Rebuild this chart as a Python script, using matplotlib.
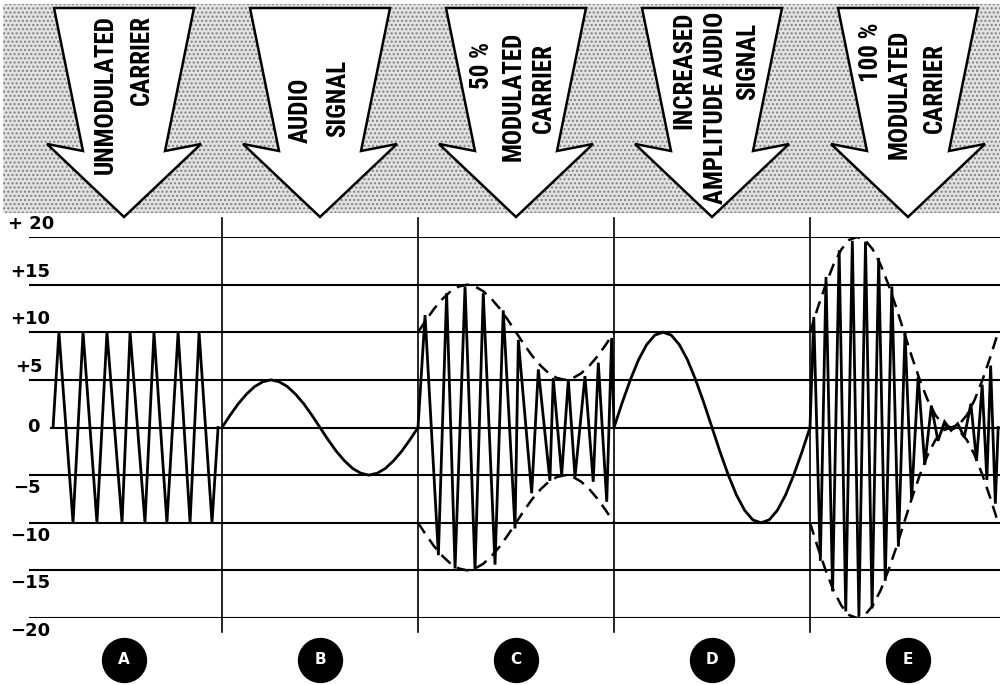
import numpy as np
import matplotlib
matplotlib.use("Agg")
import matplotlib.pyplot as plt
from matplotlib.patches import Polygon, Rectangle

# ---- data (x in panel widths, y in signal units) ----
# A: unmodulated carrier
carrier_a_t = [0.138, 0.168, 0.240, 0.291, 0.362, 0.413, 0.490, 0.531, 0.607,
               0.653, 0.719, 0.776, 0.837, 0.883, 0.949, 0.980]
carrier_a_v = [0, 10, -10, 10, -10, 10, -10, 10, -10, 10, -10, 10, -10, 10, -10, 0]

# sample positions used for the smooth curves (fraction of a panel)
curve_t = np.linspace(0, 1, 25)

# B: audio signal
audio_b = [0, 1.3, 2.5, 3.5, 4.3, 4.8, 5, 4.8, 4.3, 3.5, 2.5, 1.3, 0,
           -1.3, -2.5, -3.5, -4.3, -4.8, -5, -4.8, -4.3, -3.5, -2.5, -1.3, 0]

# C: 50 % modulated carrier
carrier_c_t = [0.0, 0.036, 0.104, 0.146, 0.189, 0.240, 0.291, 0.333, 0.393,
               0.435, 0.495, 0.512, 0.580, 0.614, 0.673, 0.690, 0.733, 0.767,
               0.801, 0.852, 0.894, 0.920, 0.963, 0.988, 1.0]
carrier_c_v = [0, 11.8, -13.4, 14.1, -14.8, 14.8, -15.0, 14.1, -14.4, 12.3,
               -10.6, 9.2, -6.9, 6.1, -5.6, 5.2, -5.0, 5.0, -5.2, 5.4, -5.7,
               6.8, -7.8, 9.4, 0]
envelope_c = [10, 11.3, 12.5, 13.5, 14.3, 14.8, 15, 14.8, 14.3, 13.5, 12.5, 11.3, 10,
              8.7, 7.5, 6.5, 5.7, 5.2, 5, 5.2, 5.7, 6.5, 7.5, 8.7, 10]

# D: increased amplitude audio signal
audio_d = [0, 2.6, 5, 7.1, 8.7, 9.7, 10, 9.7, 8.7, 7.1, 5, 2.6, 0,
           -2.6, -5, -7.1, -8.7, -9.7, -10, -9.7, -8.7, -7.1, -5, -2.6, 0]

# E: 100 % modulated carrier (drawn a little narrower than the other panels)
span_e = 0.96
carrier_e_t = [0.0, 0.02, 0.055, 0.085, 0.12, 0.155, 0.19, 0.225, 0.26, 0.295,
               0.33, 0.365, 0.40, 0.435, 0.47, 0.505, 0.54, 0.575, 0.61, 0.645,
               0.68, 0.715, 0.75, 0.785, 0.82, 0.855, 0.885, 0.915, 0.94, 0.96,
               0.985, 1.0]
carrier_e_v = [0, 11.6, -14.0, 15.8, -17.2, 18.6, -19.3, 19.6, -19.8, 19.5,
               -19.0, 17.8, -16.1, 14.8, -12.5, 10.0, -7.5, 5.3, -3.9, 2.3,
               -1.4, 0.6, -0.3, 0.4, -1.0, 2.5, -3.5, 4.5, -5.5, 6.5, -8.0, 0]
envelope_e = [10, 12.6, 15, 17.1, 18.7, 19.7, 20, 19.7, 18.7, 17.1, 15, 12.6, 10,
              7.4, 5, 2.9, 1.3, 0.3, 0, 0.3, 1.3, 2.9, 5, 7.4, 10]

grid_levels = [20, 15, 10, 5, 0, -5, -10, -15, -20]
grid_labels = ["+ 20", "+15", "+10", "+5", "0", "\u22125", "\u221210", "\u221215", "\u221220"]
panel_letters = ["A", "B", "C", "D", "E"]
arrow_texts = [
    [("UNMODULATED", -18, 15), ("CARRIER", 18, 15)],
    [("AUDIO", -19, 78), ("SIGNAL", 18, 60)],
    [("50 %", -34, 42), ("MODULATED", -2, 32), ("CARRIER", 28, 43)],
    [("INCREASED", -28, 12), ("AMPLITUDE AUDIO", 4, 12), ("SIGNAL", 36, 23)],
    [("100 %", -37, 22), ("MODULATED", -8, 30), ("CARRIER", 27, 43)],
]

W, H = 1003, 685
X0, PW = 26, 196          # pixel of x=0 and pixels per panel
fig = plt.figure(figsize=(W / 100, H / 100), dpi=100)
fig.patch.set_facecolor("white")

# decoration layer in pixel coordinates
deco = fig.add_axes([0, 0, 1, 1])
deco.set_xlim(0, W)
deco.set_ylim(H, 0)
deco.axis("off")

plt.rcParams["hatch.linewidth"] = 1.0
deco.add_patch(Rectangle((3, 4), 997, 209, facecolor="#e2e2e2", edgecolor="#808080",
                         hatch="....", linewidth=0))

narrow = ["Noto Sans Condensed", "Roboto Condensed", "Liberation Sans Narrow",
          "Liberation Sans", "DejaVu Sans"]
for k, lines in enumerate(arrow_texts):
    c = X0 + PW * (k + 0.5)
    pts = [(c - 70, 8), (c + 70, 8), (c + 41, 151), (c + 77, 144), (c, 217),
           (c - 77, 144), (c - 41, 151)]
    deco.add_patch(Polygon(pts, closed=True, facecolor="white", edgecolor="black",
                           linewidth=1.8, joinstyle="miter"))
    for s, dx, top in lines:
        deco.text(c + dx, top, s, rotation=90, ha="center", va="top",
                  family=narrow, fontstretch="condensed", fontweight="bold",
                  fontsize=18)

# main chart
ax = fig.add_axes([X0 / W, (H - 618) / H, (W - X0) / W, 381 / H])
ax.set_xlim(0, (W - X0) / PW)
ax.set_ylim(-20, 20)
ax.axis("off")
ax.patch.set_alpha(0)
ax.set_zorder(2)

for lv in grid_levels:
    x_start = 0.12 if lv == 0 else 0.015
    ax.hlines(lv, x_start, 4.97, color="black", linewidth=1.5, zorder=1)
for b in [1, 2, 3, 4]:
    ax.plot([b, b], [22.0, -21.5], color="black", linewidth=1.2, clip_on=False, zorder=1)

label_px = [8, 10, 10, 15, 27, 13, 10, 10, 10]
for lv, lab, px in zip(grid_levels, grid_labels, label_px):
    x = (px - X0) / PW
    if lv > 0:
        ax.text(x, lv + 0.4, lab, ha="left", va="bottom", fontsize=13,
                fontweight="bold", clip_on=False)
    elif lv == 0:
        ax.text(x, lv, lab, ha="left", va="center", fontsize=13,
                fontweight="bold", clip_on=False)
    else:
        ax.text(x, lv - 0.4, lab, ha="left", va="top", fontsize=13,
                fontweight="bold", clip_on=False)

wave = dict(color="black", linewidth=2.0, zorder=3, solid_joinstyle="miter")
dash = dict(color="black", linewidth=1.8, zorder=3, linestyle=(0, (5, 3)))

ax.plot(np.array(carrier_a_t), carrier_a_v, **wave)
ax.plot(1 + curve_t, audio_b, **wave)
ax.plot(2 + np.array(carrier_c_t), carrier_c_v, **wave)
ax.plot(2 + curve_t, envelope_c, **dash)
ax.plot(2 + curve_t, -np.array(envelope_c), **dash)
ax.plot(3 + curve_t, audio_d, **wave)
ax.plot(4 + span_e * np.array(carrier_e_t), carrier_e_v, **wave)
ax.plot(4 + span_e * curve_t, envelope_e, **dash)
ax.plot(4 + span_e * curve_t, -np.array(envelope_e), **dash)

# lettered circles under each panel
cx = np.arange(len(panel_letters)) + 0.5
ax.scatter(cx, [-24.4] * len(cx), s=1000, color="black", clip_on=False, zorder=4)
for x, letter in zip(cx, panel_letters):
    ax.text(x, -24.4, letter, color="white", ha="center", va="center",
            fontsize=11, fontweight="bold", zorder=5, clip_on=False)

fig.savefig("out.png", dpi=100)
